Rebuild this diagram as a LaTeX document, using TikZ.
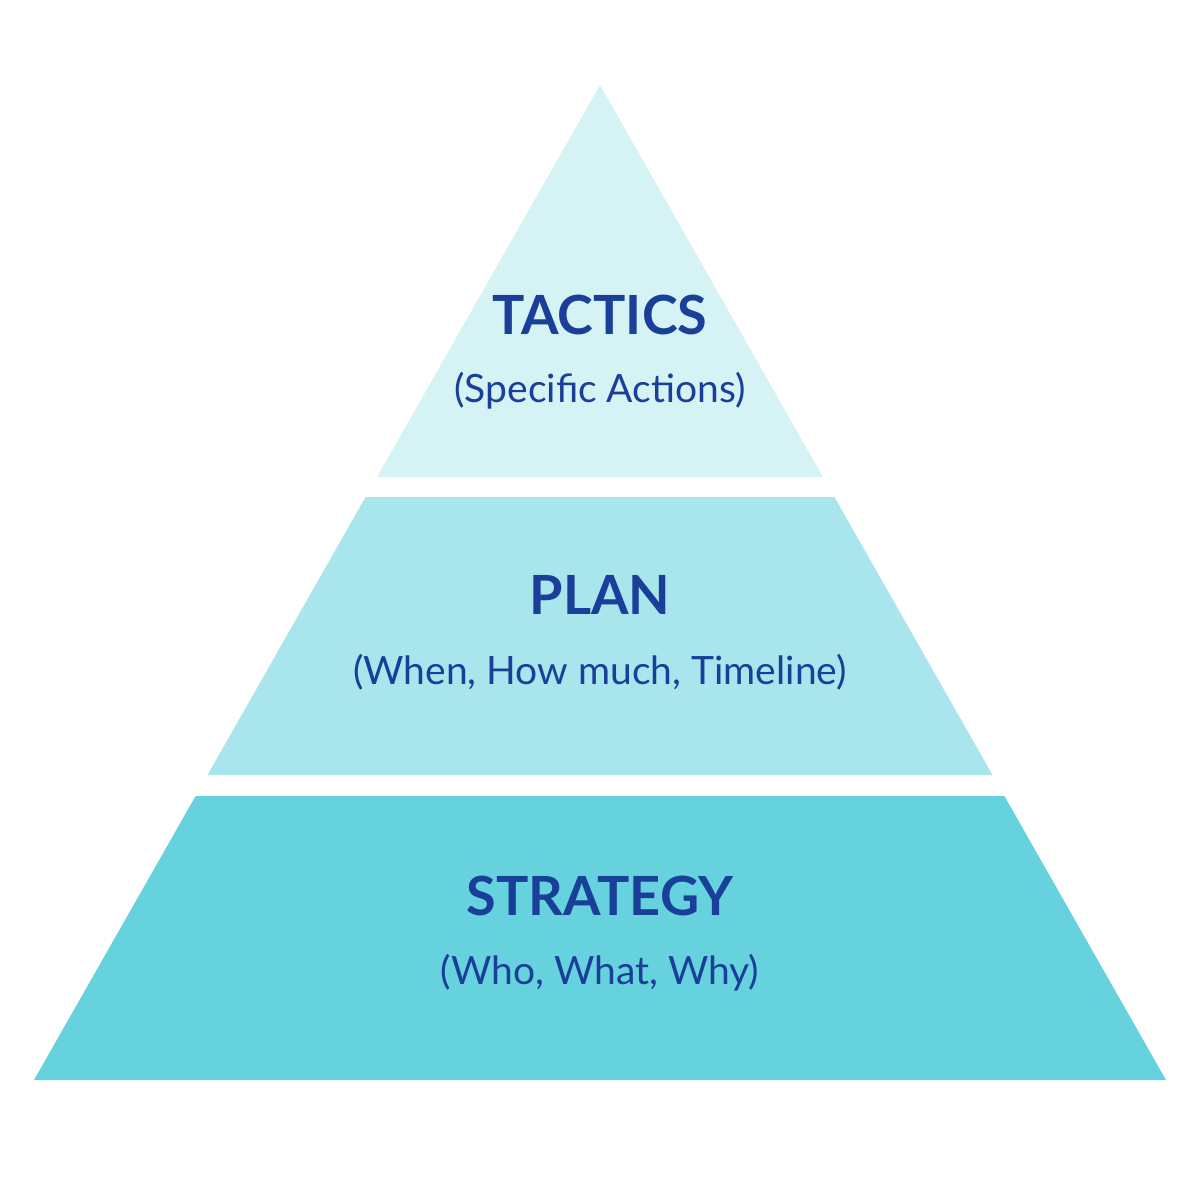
\documentclass[tikz,border=0pt]{standalone}
\usepackage{fontspec}
\setmainfont{Lato}
\definecolor{toplayer}{HTML}{D5F2F5}
\definecolor{midlayer}{HTML}{A8E5EC}
\definecolor{baselayer}{HTML}{66D2DE}
\definecolor{inkblue}{HTML}{1A3F99}
\tikzset{
  title/.style={anchor=base,text=inkblue,font=\fontsize{54}{54}\selectfont\bfseries},
  subtitle/.style={anchor=base,text=inkblue,font=\fontsize{39}{39}\selectfont}
}
\begin{document}
\begin{tikzpicture}[x=1pt,y=-1pt]
      \useasboundingbox (0,0) rectangle (1200,1200);
      % pyramid layers
      \fill[toplayer] (600,85) -- (823,477) -- (377,477) -- cycle;
      \fill[midlayer] (365.6,497) -- (834.4,497) -- (992.5,775) -- (207.5,775) -- cycle;
      \fill[baselayer] (195.6,796) -- (1004.4,796) -- (1166,1080) -- (34,1080) -- cycle;
      % labels
      \node[title] (tactics) at (600,334) {TACTICS};
      \node[subtitle] (tacticsnote) at (600,402) {(Specific Actions)};
      \node[title] (plan) at (600,614) {PLAN};
      \node[subtitle] (plannote) at (600,684) {(When, How much, Timeline)};
      \node[title] (strategy) at (600,915) {STRATEGY};
      \node[subtitle] (strategynote) at (600,984) {(Who, What, Why)};
\end{tikzpicture}
\end{document}
